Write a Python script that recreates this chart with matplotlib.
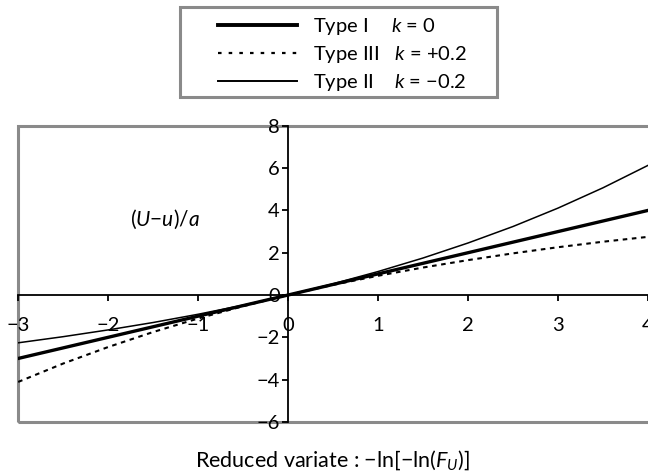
import matplotlib
matplotlib.use("Agg")
import matplotlib.pyplot as plt
from matplotlib.lines import Line2D
from matplotlib.patches import Rectangle

plt.rcParams["font.family"] = ["Lato", "DejaVu Sans"]
plt.rcParams["mathtext.fontset"] = "custom"
plt.rcParams["mathtext.rm"] = "Lato"
plt.rcParams["mathtext.it"] = "Lato:italic"

# reduced variate and standardised values for the three GEV types
reduced_variate = [-3.0, -2.5, -2.0, -1.5, -1.0, -0.5, 0.0, 0.5,
                   1.0, 1.5, 2.0, 2.5, 3.0, 3.5, 4.0]
type_1 = [-3.0, -2.5, -2.0, -1.5, -1.0, -0.5, 0.0, 0.5,
          1.0, 1.5, 2.0, 2.5, 3.0, 3.5, 4.0]
type_3 = [-4.11, -3.24, -2.46, -1.75, -1.11, -0.53, 0.0, 0.48,
          0.91, 1.30, 1.65, 1.97, 2.26, 2.52, 2.75]
type_2 = [-2.26, -1.97, -1.65, -1.30, -0.91, -0.48, 0.0, 0.53,
          1.11, 1.75, 2.46, 3.24, 4.11, 5.07, 6.13]

x_ticks = [-3, -2, -1, 0, 1, 2, 3, 4]
y_ticks = [-6, -4, -2, 0, 2, 4, 6, 8]

fig = plt.figure(figsize=(6.48, 4.73), dpi=100)
ax = fig.add_axes([0.028, 0.108, 0.972, 0.626])

ax.plot(reduced_variate, type_1, color="black", lw=2.4)
ax.plot(reduced_variate, type_3, color="black", lw=1.5, dashes=(2.2, 2.2))
ax.plot(reduced_variate, type_2, color="black", lw=1.1)

ax.set_xlim(-3, 4)
ax.set_ylim(-6, 8)
ax.set_xticks(x_ticks)
ax.set_yticks(y_ticks)

for side in ["top", "right"]:
    ax.spines[side].set_visible(False)
ax.spines["left"].set_position(("data", 0))
ax.spines["bottom"].set_position(("data", 0))
ax.spines["left"].set_linewidth(1.3)
ax.spines["bottom"].set_linewidth(1.3)
ax.tick_params(axis="x", direction="out", length=4, width=1.3, pad=12, labelsize=14.5)
ax.tick_params(axis="y", direction="out", length=4, width=1.3, pad=2, labelsize=14.5)

# outer frame
ax.add_patch(Rectangle((0, 0), 1.05, 1, transform=ax.transAxes, fill=False,
                       edgecolor="#8a8a8a", lw=2.2, clip_on=False))

ax.text(-1.37, 3.6, "($U$\u2212$u$)/$a$", fontsize=15, ha="center", va="center")
fig.text(0.513, 0.027, "Reduced variate : \u2212ln[\u2212ln($F_U$)]",
         fontsize=15.5, ha="center", va="center")

# legend box drawn separately so the margins can be set freely
fig.add_artist(Rectangle((180 / 648, 1 - 97 / 473), 317 / 648, 90 / 473,
                         transform=fig.transFigure, fill=False,
                         edgecolor="#8a8a8a", lw=2.2))

handles = [
    Line2D([], [], color="black", lw=2.8),
    Line2D([], [], color="black", lw=1.6, dashes=(1.6, 3.2)),
    Line2D([], [], color="black", lw=1.4),
]
labels = [
    "Type I    $\\,k$ = 0",
    "Type III   $k$ = +0.2",
    "Type II    $k$ = \u22120.2",
]
fig.legend(handles, labels, loc="upper left", bbox_to_anchor=(218 / 648, 1 - 16 / 473),
           fontsize=14.5, handlelength=3.9, handletextpad=0.8, frameon=False,
           borderpad=0, labelspacing=0.35, borderaxespad=0)

fig.savefig("out.png", dpi=100)
